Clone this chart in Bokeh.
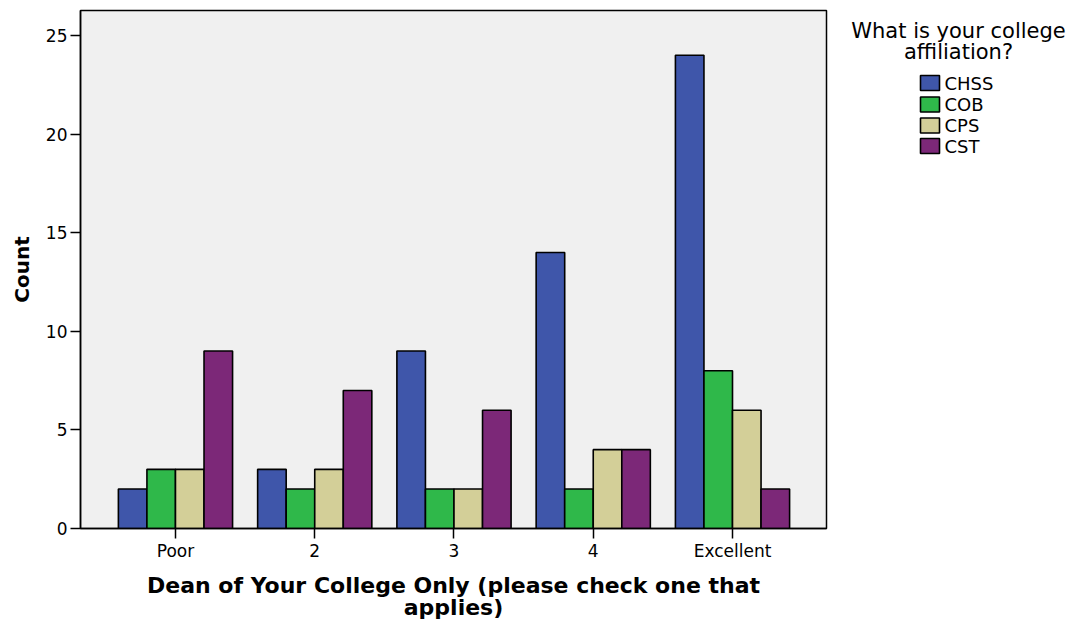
from bokeh.plotting import figure
from bokeh.layouts import row
from bokeh.models import Range1d, FixedTicker, ColumnDataSource
from bokeh.core.properties import value
from bokeh.embed import file_html
from bokeh.resources import INLINE

categories = ["Poor", "2", "3", "4", "Excellent"]
series = ["CHSS", "COB", "CPS", "CST"]
chss = [2, 3, 9, 14, 24]
cob = [3, 2, 2, 2, 8]
cps = [3, 3, 2, 4, 6]
cst = [9, 7, 6, 4, 2]
colors = ["#3F56AA", "#2FB84A", "#D3CF98", "#7C2878"]
y_ticks = [0, 5, 10, 15, 20, 25]
legend_title = ["What is your college", "affiliation?"]

FONT = "DejaVu Sans"
values = [chss, cob, cps, cst]
positions = list(range(1, len(categories) + 1))
bar_w = 0.205

FRAME_TOP, FRAME_BOTTOM = 10, 528
H = 628

p = figure(width=836, height=H, output_backend="svg", toolbar_location=None,
           x_range=Range1d(0.318, 5.675), y_range=Range1d(0, 26.27),
           min_border_left=80, min_border_right=10, min_border_top=FRAME_TOP,
           min_border_bottom=H - FRAME_BOTTOM)
p.background_fill_color = "#F0F0F0"
p.border_fill_color = "white"
p.outline_line_color = "black"
p.outline_line_width = 1.5
p.xgrid.visible = False
p.ygrid.visible = False

for j, (name, vals, col) in enumerate(zip(series, values, colors)):
    xs = [pos + (j - 1.5) * bar_w for pos in positions]
    src = ColumnDataSource(dict(x=xs, top=vals))
    p.vbar(x="x", top="top", bottom=0, width=bar_w, source=src,
           fill_color=col, line_color="black", line_width=1.6)

p.xaxis.ticker = FixedTicker(ticks=positions)
p.xaxis.major_label_overrides = {pos: c for pos, c in zip(positions, categories)}
p.yaxis.ticker = FixedTicker(ticks=y_ticks)

for ax in (p.xaxis, p.yaxis):
    ax.axis_line_color = "black"
    ax.axis_line_width = 1.5
    ax.major_tick_line_color = "black"
    ax.major_tick_line_width = 1.5
    ax.major_tick_in = 0
    ax.major_tick_out = 10
    ax.minor_tick_line_color = None
    ax.major_label_text_font = FONT
    ax.major_label_text_font_size = "17px"
    ax.major_label_text_color = "black"
    ax.axis_label_text_font = FONT
    ax.axis_label_text_font_style = "bold"
    ax.axis_label_text_color = "black"

p.xaxis.axis_label = "Dean of Your College Only (please check one that\napplies)"
p.xaxis.axis_label_text_font_size = "22px"
p.xaxis.axis_label_text_line_height = 0.9
p.xaxis.major_label_standoff = 2
p.xaxis.axis_label_standoff = 9
p.yaxis.axis_label = "Count"
p.yaxis.axis_label_text_font_size = "20px"
p.yaxis.major_label_standoff = 3
p.yaxis.axis_label_standoff = 9

# legend panel (its frame is aligned with the main frame by the row layout)
leg = figure(width=239, height=H, output_backend="svg", toolbar_location=None,
             x_range=Range1d(836, 1075), y_range=Range1d(FRAME_BOTTOM, FRAME_TOP),
             min_border_left=0, min_border_right=0, min_border_top=FRAME_TOP,
             min_border_bottom=H - FRAME_BOTTOM)
leg.axis.visible = False
leg.grid.visible = False
leg.outline_line_color = None
leg.background_fill_color = "white"
leg.border_fill_color = "white"

leg.text(x=[958, 958], y=[30, 51], text=legend_title, text_align="center",
         text_baseline="middle", text_font=value(FONT), text_font_size="21px",
         text_color="black")
item_y = [82.5, 104, 125, 145.5]
leg.rect(x=[929.5] * 4, y=item_y, width=19, height=15, fill_color=colors,
         line_color="black", line_width=1.6)
leg.text(x=[944] * 4, y=item_y, text=series, text_align="left",
         text_baseline="middle", text_font=value(FONT), text_font_size="18px",
         text_color="black")

layout = row(p, leg)
open("out.html", "w").write(file_html(layout, INLINE))
